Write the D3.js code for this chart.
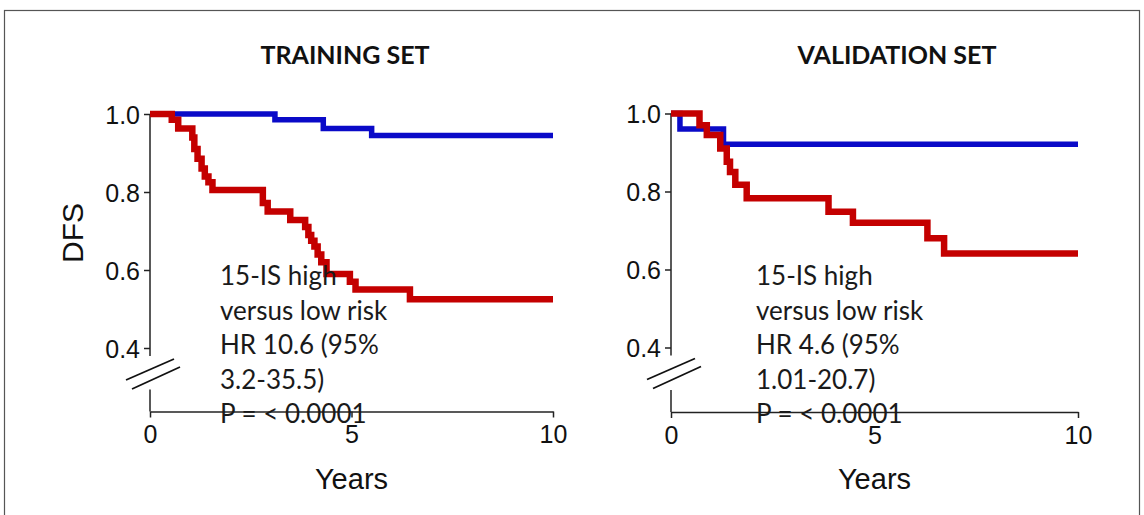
<!DOCTYPE html>
<html><head><meta charset="utf-8">
<script src="https://cdn.jsdelivr.net/npm/d3@7/dist/d3.min.js"></script>
<style>body{margin:0;background:#fff}svg{display:block}</style>
</head><body>
<svg id="chart" width="1144" height="515"></svg>
<script>
// ---- data ----
const panelTitles = ["TRAINING SET", "VALIDATION SET"];
const yTickValues = [0.4, 0.6, 0.8, 1.0];
const xTickValues = [0, 5, 10];
const xLabel = "Years";
const yLabel = "DFS";

// Training set
const trainLowTime = [0, 3.1, 4.3, 5.5, 10];
const trainLowSurv = [1, 0.985, 0.963, 0.945, 0.945];
const trainHighTime = [0, 0.54, 0.70, 1.05, 1.10, 1.18, 1.28, 1.36, 1.45, 1.55, 2.80, 2.92, 3.48, 3.85, 3.93, 4.00, 4.08, 4.16, 4.25, 4.38, 4.96, 5.10, 6.45, 10];
const trainHighSurv = [1, 0.985, 0.963, 0.94, 0.91, 0.885, 0.86, 0.84, 0.825, 0.805, 0.772, 0.75, 0.728, 0.71, 0.69, 0.675, 0.66, 0.64, 0.62, 0.59, 0.57, 0.55, 0.525, 0.525];
const trainNote = ["15-IS high", "versus low risk", "HR 10.6 (95%", "3.2-35.5)", "P = < 0.0001"];

// Validation set
const validLowTime = [0, 0.22, 1.29, 10];
const validLowSurv = [1, 0.96, 0.921, 0.921];
const validHighTime = [0, 0.70, 0.88, 1.21, 1.37, 1.45, 1.58, 1.86, 3.87, 4.47, 6.30, 6.71, 10];
const validHighSurv = [1, 0.97, 0.945, 0.91, 0.876, 0.85, 0.817, 0.783, 0.748, 0.72, 0.68, 0.641, 0.641];
const validNote = ["15-IS high", "versus low risk", "HR 4.6 (95%", "1.01-20.7)", "P = < 0.0001"];

const colorLow = "#0a0ac8";
const colorHigh = "#c40000";

// ---- layout ----
const svg = d3.select("#chart");
svg.append("rect").attr("x", 4.5).attr("y", 10.5).attr("width", 1135).attr("height", 520)
  .attr("fill", "none").attr("stroke", "#555").attr("stroke-width", 1.2);

const panels = [
  {title: panelTitles[0], x0: 150, x1: 553, yTop: 114, y04: 348, xAxisY: 411.5, titleX: 345,
   series: [[trainLowTime, trainLowSurv, colorLow, 5.5], [trainHighTime, trainHighSurv, colorHigh, 6.5]],
   note: trainNote, noteX: 220, showYLabel: true},
  {title: panelTitles[1], x0: 671, x1: 1078, yTop: 113.5, y04: 347.5, xAxisY: 412, titleX: 897,
   series: [[validLowTime, validLowSurv, colorLow, 5.5], [validHighTime, validHighSurv, colorHigh, 6.5]],
   note: validNote, noteX: 756, showYLabel: false}
];

const axisFont = "'Liberation Sans', Arial, sans-serif";

panels.forEach(p => {
  const g = svg.append("g");
  const x = d3.scaleLinear().domain([0, 10]).range([p.x0, p.x1]);
  const y = d3.scaleLinear().domain([0.4, 1.0]).range([p.y04, p.yTop]);

  // title
  g.append("text").attr("x", p.titleX).attr("y", 64).attr("text-anchor", "middle")
    .attr("font-family", "Lato, sans-serif").attr("font-weight", "bold").attr("font-size", 25)
    .attr("fill", "#111").text(p.title);

  // y axis ticks
  const yAxis = d3.axisLeft(y).tickValues(yTickValues).tickFormat(d3.format(".1f")).tickSize(6).tickSizeOuter(0).tickPadding(4);
  const ya = g.append("g").attr("transform", `translate(${p.x0},0)`).call(yAxis);
  ya.select(".domain").remove();
  ya.selectAll(".tick line").attr("stroke", "#222").attr("stroke-width", 1.5);
  ya.selectAll(".tick text").attr("font-family", axisFont).attr("font-size", 25).attr("fill", "#111")
    .attr("dy", "0.36em");

  // y axis line with break
  const yBreak = y(0.4) + 8;
  g.append("line").attr("x1", p.x0).attr("x2", p.x0).attr("y1", p.yTop).attr("y2", yBreak)
    .attr("stroke", "#222").attr("stroke-width", 1.5);
  g.append("line").attr("x1", p.x0).attr("x2", p.x0).attr("y1", p.xAxisY - 22).attr("y2", p.xAxisY)
    .attr("stroke", "#222").attr("stroke-width", 1.5);
  // break marks
  const by = p.y04;
  [[-24, by + 32, 24, by + 11], [-18, by + 41, 30, by + 19]].forEach(s => {
    g.append("line").attr("x1", p.x0 + s[0]).attr("y1", s[1]).attr("x2", p.x0 + s[2]).attr("y2", s[3])
      .attr("stroke", "#111").attr("stroke-width", 1.8);
  });

  // x axis
  const xAxis = d3.axisBottom(x).tickValues(xTickValues).tickSize(6).tickSizeOuter(0).tickPadding(8);
  const xa = g.append("g").attr("transform", `translate(0,${p.xAxisY})`).call(xAxis);
  xa.select(".domain").attr("stroke", "#222").attr("stroke-width", 1.5);
  xa.selectAll(".tick line").attr("stroke", "#222").attr("stroke-width", 1.5);
  xa.selectAll(".tick text").attr("font-family", axisFont).attr("font-size", 25).attr("fill", "#111");

  // axis labels
  g.append("text").attr("x", (p.x0 + p.x1) / 2).attr("y", 489).attr("text-anchor", "middle")
    .attr("font-family", axisFont).attr("font-size", 29).attr("fill", "#111").text(xLabel);
  if (p.showYLabel) {
    g.append("text").attr("transform", `translate(83,233) rotate(-90)`).attr("text-anchor", "middle")
      .attr("font-family", axisFont).attr("font-size", 30).attr("fill", "#111").text(yLabel);
  }

  // curves
  const line = d3.line().x(d => x(d[0])).y(d => y(d[1])).curve(d3.curveStepAfter);
  p.series.forEach(([t, s, c, w]) => {
    g.append("path").datum(t.map((v, i) => [v, s[i]])).attr("d", line)
      .attr("fill", "none").attr("stroke", c).attr("stroke-width", w).attr("stroke-linejoin", "miter");
  });

  // note
  const nt = g.append("text").attr("font-family", "Lato, sans-serif").attr("font-size", 26).attr("fill", "#1a1a1a");
  p.note.forEach((l, i) => {
    nt.append("tspan").attr("x", p.noteX).attr("y", 285 + i * 34.5).text(l);
  });
});
</script>
</body></html>
